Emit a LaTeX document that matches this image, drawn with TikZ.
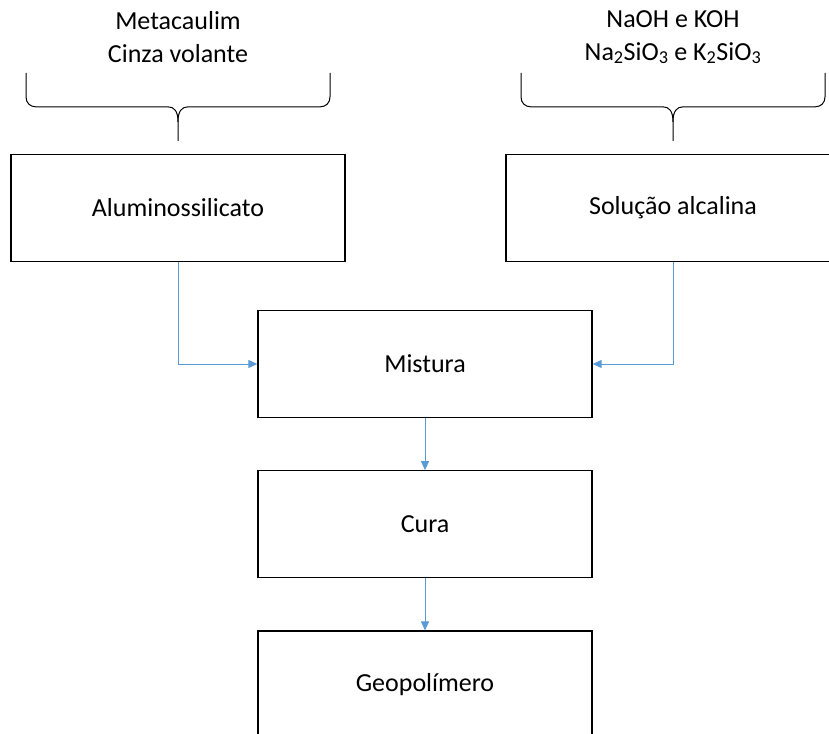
\documentclass[tikz,border=0pt]{standalone}
\usepackage{fontspec}
\setmainfont{Carlito}
\usetikzlibrary{positioning, arrows.meta}
\definecolor{flowblue}{HTML}{5B9BD5}
\tikzset{
x=1pt, y=-1pt, % one unit is one pixel of the sketch, y runs downwards
node distance=52pt, % gap between the stacked steps
box/.style={draw=black, line width=1.3pt, minimum width=334pt, minimum height=107pt, inner sep=0pt, font=\fontsize{26pt}{31pt}\selectfont}, % every step of the process
flow/.style={draw=flowblue, line width=1pt, -{Triangle[length=9pt, width=8pt]}}, % the blue connectors
source/.style={align=center, font=\fontsize{26pt}{33pt}\selectfont}, % raw materials above the braces
topbrace/.pic={
    \draw[line width=1pt] (-152,-68) -- (-152,-44) .. controls (-152,-38) and (-148,-34) .. (-142,-34) -- (-10,-34) .. controls (-4,-34) and (0,-30) .. (0,-19) -- (0,0);
    \draw[line width=1pt] (152,-68) -- (152,-44) .. controls (152,-38) and (148,-34) .. (142,-34) -- (10,-34) .. controls (4,-34) and (0,-30) .. (0,-19);
}, % brace gathering the raw materials
}

\begin{document}
\begin{tikzpicture}
                \useasboundingbox (0,0) rectangle (829,733);
                \node[box] (alu) at (178,208) {Aluminossilicato};
                \node[box] (sol) at (673,208) {Solução alcalina};
                \node[box] (mis) at (425,364) {Mistura};
                \node[box, below=of mis] (cura) {Cura};
                \node[box, below=of cura] (geo) {Geopolímero};
                \node[source] (alusrc) at (178,37) {Metacaulim\\Cinza volante};
                \node[source] (solsrc) at (673,37) {NaOH e KOH\\Na\textsubscript{2}SiO\textsubscript{3} e K\textsubscript{2}SiO\textsubscript{3}};
                \pic at ([yshift=13pt]alu.north) {topbrace};
                \pic at ([yshift=13pt]sol.north) {topbrace};
                \draw[flow] (alu.south) |- (mis.west);
                \draw[flow] (sol.south) |- (mis.east);
                \draw[flow] (mis) -- (cura);
                \draw[flow] (cura) -- (geo);
                \end{tikzpicture}
\end{document}
